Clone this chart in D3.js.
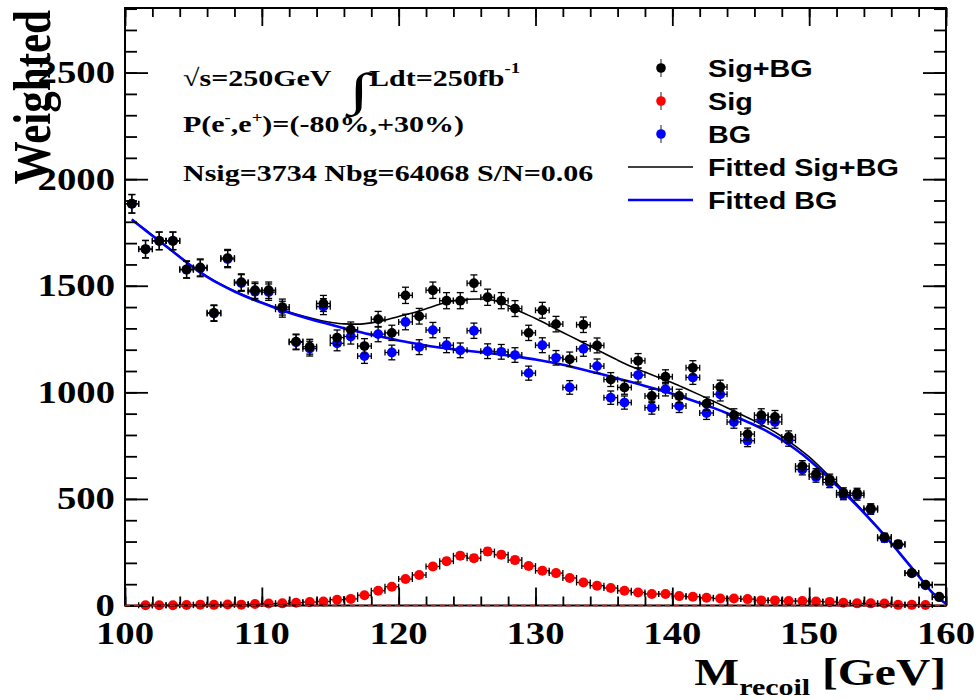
<!DOCTYPE html>
<html>
<head>
<meta charset="utf-8">
<script src="https://cdn.jsdelivr.net/npm/d3@7"></script>
<style>
  body { margin: 0; background: #fff; }
  svg { display: block; }
</style>
</head>
<body>
<svg id="chart" width="979" height="700"></svg>
<script>
// bin centres of the 1 GeV histogram
const massBins = d3.range(100.5, 160, 1);

const sigBg = [1885, 1672, 1711, 1711, 1577, 1586, 1373, 1630, 1517, 1479,
  1479, 1400, 1238, 1214, 1417, 1257, 1294, 1217, 1343, 1279,
  1455, 1357, 1479, 1430, 1430, 1512, 1446, 1430, 1393, 1279,
  1385, 1320, 1155, 1317, 1220, 1060, 1023, 1148, 983, 1073,
  983, 1115, 947, 1025, 893, 804, 893, 885, 791, 654,
  617, 592, 529, 527, 456, 321, 288, 153, 98, 41];

const bgOnly = [1884, 1671, 1710, 1710, 1575, 1582, 1370, 1625, 1513, 1472,
  1470, 1390, 1235, 1205, 1402, 1230, 1262, 1170, 1273, 1187,
  1330, 1212, 1292, 1221, 1197, 1289, 1193, 1190, 1175, 1090,
  1221, 1162, 1023, 1204, 1123, 975, 952, 1081, 928, 1015,
  936, 1070, 903, 991, 861, 773, 871, 861, 775, 638,
  603, 577, 519, 517, 449, 315, 285, 151, 95, 39];

const sigOnly = [null, 1, 1, 1, 2, 4, 3, 5, 4, 7,
  9, 10, 13, 16, 19, 27, 31, 48, 69, 88,
  124, 143, 183, 208, 233, 222, 253, 238, 213, 185,
  163, 152, 129, 108, 93, 82, 69, 61, 54, 54,
  44, 41, 36, 33, 33, 30, 24, 24, 21, 21,
  19, 17, 13, 10, 10, 9, 3, 3, 2, null];

const fitMass = [100.5].concat(d3.range(101, 161));
const fitSigBg = [1812, 1787, 1737, 1687, 1637, 1587, 1544, 1507, 1475, 1447,
  1422, 1399, 1377, 1358, 1342, 1329, 1321, 1320, 1326, 1338,
  1356, 1372, 1392, 1413, 1430, 1437, 1438, 1431, 1408, 1376,
  1346, 1314, 1281, 1249, 1216, 1183, 1151, 1121, 1095, 1070,
  1045, 1017, 988, 958, 928, 897, 866, 832, 793, 748,
  697, 637, 573, 507, 439, 368, 294, 216, 139, 61, 8];
const fitBg = [1810, 1785, 1735, 1685, 1635, 1585, 1542, 1505, 1473, 1445,
  1420, 1396, 1373, 1353, 1335, 1318, 1301, 1285, 1270, 1257,
  1243, 1231, 1220, 1210, 1202, 1195, 1188, 1181, 1173, 1164,
  1154, 1142, 1129, 1114, 1098, 1082, 1065, 1048, 1030, 1012,
  993, 972, 950, 927, 902, 875, 847, 815, 777, 733,
  683, 625, 563, 500, 435, 365, 292, 215, 138, 60, 8];

const xTicks = [100, 110, 120, 130, 140, 150, 160];
const yTicks = [0, 500, 1000, 1500, 2000, 2500];
const legendLabels = ["Sig+BG", "Sig", "BG", "Fitted Sig+BG", "Fitted BG"];

const svg = d3.select("#chart");
const padL = 125, padR = 946, padT = 8, padB = 605.5;
const stretch = 1.25;   // the picture is wider than the font
const serif = "'Liberation Serif','Times New Roman',serif";
const sans = "'Liberation Sans',Arial,sans-serif";

const x = d3.scaleLinear().domain([100, 160]).range([padL, padR]);
const y = d3.scaleLinear().domain([0, 2803]).range([padB, padT]);

function label(g, px, py, str, size, family, anchor) {
  return g.append("g")
    .attr("transform", "translate(" + px + "," + py + ") scale(" + stretch + ",1)")
    .append("text")
    .attr("font-family", family)
    .attr("font-weight", "bold")
    .attr("font-size", size)
    .attr("text-anchor", anchor || "start")
    .text(str);
}

// ---- fitted curves
const fitLine = (vals) => d3.line()
  .x((d, i) => x(fitMass[i]))
  .y(d => y(d))
  .curve(d3.curveMonotoneX)(vals);

svg.append("path").attr("d", fitLine(fitSigBg))
  .attr("fill", "none").attr("stroke", "#000").attr("stroke-width", 1.6);
svg.append("path").attr("d", fitLine(fitBg))
  .attr("fill", "none").attr("stroke", "#0000ff").attr("stroke-width", 2.6);

// ---- histogram points with error bars
function drawPoints(values, color, r, cls) {
  const pts = massBins.map((m, i) => ({ m: m, v: values[i] })).filter(d => d.v != null);
  const g = svg.append("g").attr("class", cls);
  const bars = g.append("g").attr("stroke", "#000").attr("stroke-width", 1.3);
  pts.forEach(function (d) {
    const e = Math.sqrt(d.v);
    const cx = x(d.m), cy = y(d.v);
    bars.append("line").attr("x1", x(d.m - 0.5)).attr("x2", x(d.m + 0.5)).attr("y1", cy).attr("y2", cy);
    bars.append("line").attr("x1", x(d.m - 0.5)).attr("x2", x(d.m - 0.5)).attr("y1", cy - 3).attr("y2", cy + 3);
    bars.append("line").attr("x1", x(d.m + 0.5)).attr("x2", x(d.m + 0.5)).attr("y1", cy - 3).attr("y2", cy + 3);
    bars.append("line").attr("x1", cx).attr("x2", cx).attr("y1", y(d.v - e)).attr("y2", y(d.v + e));
    bars.append("line").attr("x1", cx - 3.5).attr("x2", cx + 3.5).attr("y1", y(d.v - e)).attr("y2", y(d.v - e));
    bars.append("line").attr("x1", cx - 3.5).attr("x2", cx + 3.5).attr("y1", y(d.v + e)).attr("y2", y(d.v + e));
  });
  g.selectAll("circle").data(pts).enter().append("circle")
    .attr("cx", d => x(d.m)).attr("cy", d => y(d.v))
    .attr("r", r).attr("fill", color);
}

drawPoints(sigOnly, "#ff0000", 5, "sig");
drawPoints(bgOnly, "#0000ff", 4.9, "bg");
drawPoints(sigBg, "#000000", 4.9, "sigbg");

// ---- frame and ticks
const axes = svg.append("g");
function ticks(axisFn, scale, values, size, tx, ty) {
  const g = axes.append("g").attr("transform", "translate(" + tx + "," + ty + ")")
    .call(axisFn(scale).tickValues(values).tickSize(size).tickFormat(""));
  g.select(".domain").remove();
  g.selectAll("line").attr("stroke", "#000").attr("stroke-width", 1.8);
}
const xMinor = d3.range(100, 161, 2);
const yMinor = d3.range(0, 2801, 100);
ticks(d3.axisBottom, x, xMinor, -9, 0, padB);
ticks(d3.axisBottom, x, xTicks, -18, 0, padB);
ticks(d3.axisTop, x, xMinor, -9, 0, padT);
ticks(d3.axisTop, x, xTicks, -18, 0, padT);
ticks(d3.axisLeft, y, yMinor, -12, padL, 0);
ticks(d3.axisLeft, y, yTicks, -23, padL, 0);
ticks(d3.axisRight, y, yMinor, -12, padR, 0);
ticks(d3.axisRight, y, yTicks, -23, padR, 0);

svg.append("rect").attr("x", padL).attr("y", padT)
  .attr("width", padR - padL).attr("height", padB - padT)
  .attr("fill", "none").attr("stroke", "#000").attr("stroke-width", 2);

svg.append("line").attr("x1", x(100)).attr("x2", x(160)).attr("y1", y(0)).attr("y2", y(0))
  .attr("stroke", "#ff0000").attr("stroke-width", 1.6).attr("stroke-dasharray", "5,4");

// tick labels
yTicks.forEach(t => label(svg, 115, y(t) + 10.5, String(t), 31, serif, "end"));
xTicks.forEach(t => label(svg, x(t), 644, String(t), 31, serif, "middle"));

// axis titles
svg.append("g")
  .attr("transform", "translate(50,10) scale(" + stretch + ",1) rotate(-90)")
  .append("text")
  .attr("font-family", serif).attr("font-weight", "bold").attr("font-size", 43)
  .attr("text-anchor", "end").text("Weighted");

const xt = label(svg, 946, 685, "M", 38, serif, "end");
xt.append("tspan").attr("font-size", 24).attr("dy", 10).text("recoil");
xt.append("tspan").attr("dy", -10).text(" [GeV]");

// info text
label(svg, 183, 86, "\u221As=250GeV", 24, serif);
svg.append("g").attr("transform", "translate(349,105) scale(1.6,1)")
  .append("text").attr("font-family", serif).attr("font-weight", "bold")
  .attr("font-size", 46).text("\u222B");
const lum = label(svg, 369, 86, "Ldt=250fb", 24, serif);
lum.append("tspan").attr("font-size", 15).attr("dy", -13).text("-1");

const pol = label(svg, 183, 132, "P(e", 24, serif);
pol.append("tspan").attr("font-size", 15).attr("dy", -10).text("-");
pol.append("tspan").attr("dy", 10).text(",e");
pol.append("tspan").attr("font-size", 15).attr("dy", -10).text("+");
pol.append("tspan").attr("dy", 10).text(")=(-80%,+30%)");

label(svg, 183, 181, "Nsig=3734 Nbg=64068 S/N=0.06", 24, serif);

// ---- legend
const legendY = [68, 101, 134, 167, 200];
const legendColors = ["#000000", "#ff0000", "#0000ff", "#000000", "#0000ff"];
const legend = svg.append("g");
legendLabels.forEach(function (name, i) {
  const ly = legendY[i];
  if (i < 3) {
    legend.append("line").attr("x1", 661).attr("x2", 661).attr("y1", ly - 9).attr("y2", ly + 9)
      .attr("stroke", "#555").attr("stroke-width", 1.3);
    legend.append("circle").attr("cx", 661).attr("cy", ly).attr("r", 4.8).attr("fill", legendColors[i]);
  } else {
    legend.append("line").attr("x1", 628).attr("x2", 693).attr("y1", ly).attr("y2", ly)
      .attr("stroke", legendColors[i]).attr("stroke-width", i === 3 ? 1.6 : 2.6);
  }
  label(legend, 708, ly + 8.5, name, 23, sans);
});
</script>
</body>
</html>
